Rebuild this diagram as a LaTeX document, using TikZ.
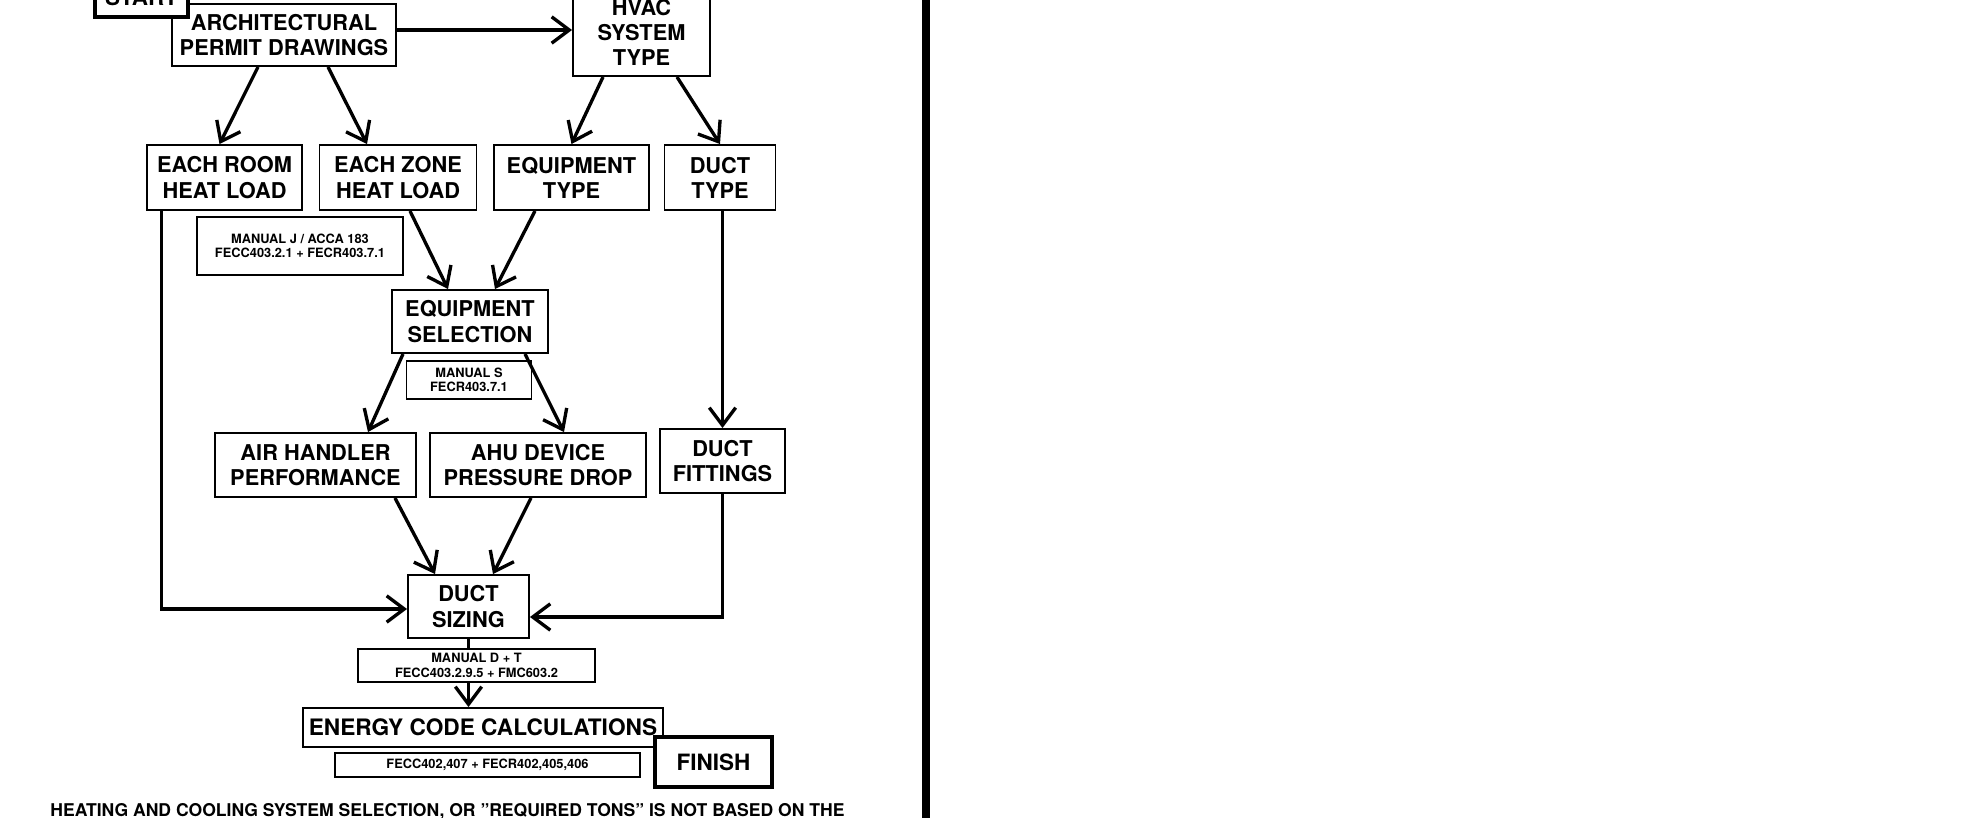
\documentclass[tikz,border=0pt]{standalone}
\usepackage{fontspec}
\setmainfont{TeX Gyre Heros}
\usetikzlibrary{arrows.meta}
\tikzset{>={Straight Barb[length=10pt,width=15pt]}}

\begin{document}
\begin{tikzpicture}[x=0.02cm, y=-0.02cm,
  sz/.style 2 args={minimum width=#1*0.02cm, minimum height=#2*0.02cm},
  box/.style={draw, line width=1.1pt, fill=white, align=center, inner sep=0pt, font=\bfseries\fontsize{12.4}{14.3}\selectfont},
  note/.style={draw, line width=0.6pt, fill=white, align=center, inner sep=0pt, font=\bfseries\fontsize{7.3}{8.2}\selectfont},
  term/.style={draw, line width=1.9pt, fill=white, inner sep=0pt, font=\bfseries\fontsize{12.8}{14}\selectfont},
  flow/.style={->, line width=1.9pt}]
\useasboundingbox (0,0) rectangle (1971,818);

\node[box, sz={224}{62}] (arch) at (284,35) {ARCHITECTURAL\\PERMIT DRAWINGS};
\node[box, sz={137}{87}] (hvac) at (641.5,32.5) {HVAC\\SYSTEM\\TYPE};
\node[box, sz={155}{65}] (room) at (224.5,177.5) {EACH ROOM\\HEAT LOAD};
\node[box, sz={157}{65}] (zone) at (398,177.5) {EACH ZONE\\HEAT LOAD};
\node[box, sz={155}{65}] (eqtype) at (571.5,177.5) {EQUIPMENT\\TYPE};
\node[box, sz={111}{65}] (dtype) at (720,177.5) {DUCT\\TYPE};
\node[box, sz={156}{63}] (eqsel) at (470,321.5) {EQUIPMENT\\SELECTION};
\node[box, sz={201}{64}] (air) at (315.5,465) {AIR HANDLER\\PERFORMANCE};
\node[box, sz={216}{64}] (ahu) at (538,465) {AHU DEVICE\\PRESSURE DROP};
\node[box, sz={125}{64}] (fit) at (722.5,461) {DUCT\\FITTINGS};
\node[box, sz={121}{63}] (duct) at (468.5,606.5) {DUCT\\SIZING};
\node[box, sz={360}{39}, font=\bfseries\fontsize{12.9}{15}\selectfont] (energy) at (483,727.5) {ENERGY CODE CALCULATIONS};

\node[note, sz={206}{58}] (manj) at (300,246) {MANUAL J / ACCA 183\\FECC403.2.1 + FECR403.7.1};
\node[note, sz={125}{38}] (mans) at (469,380) {MANUAL S\\FECR403.7.1};
\node[note, sz={237}{33}] (mand) at (476.5,665.5) {MANUAL D + T\\FECC403.2.9.5 + FMC603.2};
\node[note, sz={305}{24}] (fecc) at (487.5,765) {FECC402,407 + FECR402,405,406};

\draw[flow] ([yshift=0.1cm]arch.east) -- ([yshift=0.1cm]arch.east -| hvac.west);
\draw[flow] ([xshift=-0.52cm]arch.south) -- ([xshift=-0.1cm]room.north);
\draw[flow] ([xshift=0.88cm]arch.south) -- ([xshift=-0.62cm]zone.north);
\draw[flow] ([xshift=-0.77cm]hvac.south) -- (eqtype.north);
\draw[flow] ([xshift=0.71cm]hvac.south) -- (dtype.north);
\draw[flow] ([xshift=0.24cm]zone.south) -- ([xshift=-0.44cm]eqsel.north);
\draw[flow] ([xshift=-0.73cm]eqtype.south) -- ([xshift=0.5cm]eqsel.north);
\draw[flow] ([xshift=-1.34cm]eqsel.south) -- ([xshift=1.05cm]air.north);
\draw[flow] ([xshift=1.1cm]eqsel.south) -- ([xshift=0.52cm]ahu.north);
\draw[flow] (dtype.south -| fit.north) -- (fit.north);
\draw[flow] ([xshift=0.31cm]room.south west) |- ([yshift=-0.05cm]duct.west);
\draw[flow] (fit.south) |- ([yshift=-0.21cm]duct.east);
\draw[flow] ([xshift=1.59cm]air.south) -- ([xshift=-0.67cm]duct.north);
\draw[flow] ([xshift=-0.14cm]ahu.south) -- ([xshift=0.49cm]duct.north);
\draw[line width=1.9pt] (duct.south) -- (duct.south |- mand.north);
\draw[flow] (duct.south |- mand.south) -- (duct.south |- energy.north);

\node[term, sz={93}{40}] (start) at (141.5,-3) {START};
\node[term, sz={117}{50}] (finish) at (713.5,762) {FINISH};

\node[anchor=base west, inner sep=0pt, font=\bfseries\fontsize{10}{12}\selectfont] (remark) at (50,816)
  {HEATING AND COOLING SYSTEM SELECTION, OR "REQUIRED TONS" IS NOT BASED ON THE};

\draw[line width=4pt] (926,-10) -- (926,830);
\end{tikzpicture}
\end{document}
